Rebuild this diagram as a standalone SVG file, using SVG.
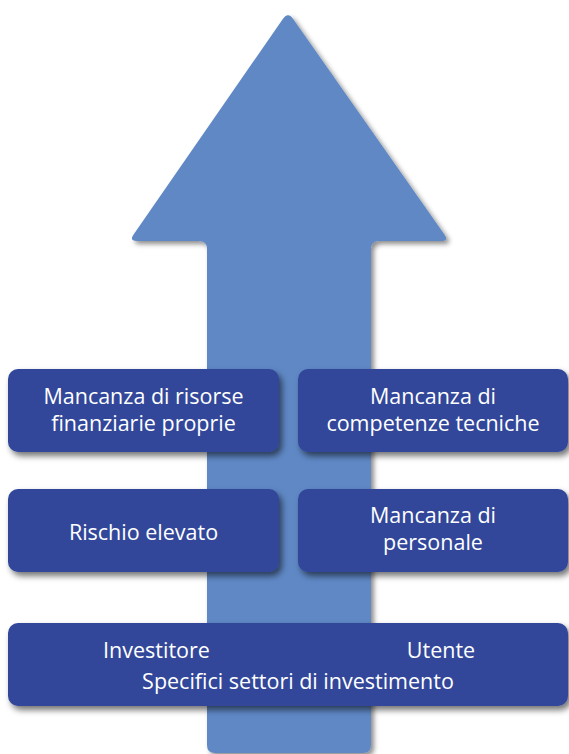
<svg xmlns="http://www.w3.org/2000/svg" width="569" height="754" viewBox="0 0 569 754">
<defs>
<filter id="sh" x="-10%" y="-10%" width="125%" height="130%">
<feDropShadow dx="3" dy="4" stdDeviation="3" flood-color="#000" flood-opacity="0.55"/>
</filter>
<filter id="ash" x="-10%" y="-10%" width="125%" height="125%">
<feDropShadow dx="3" dy="3" stdDeviation="2.5" flood-color="#000" flood-opacity="0.45"/>
</filter>
</defs>
<style>
.box{fill:#31469a;filter:url(#sh);}
.t{font-family:"Open Sans","Liberation Sans",sans-serif;font-size:21.5px;fill:#ffffff;text-anchor:middle;}
</style>
<rect width="569" height="754" fill="#ffffff"/>
<g id="arrow">
<path d="M282.5,19.5 Q288,11 293.5,19.5 L444.4,234.5 Q449,241 441,241 L379,241 Q371,241 371,249 L371,745 Q371,753 363,753 L215,753 Q207,753 207,745 L207,249 Q207,241 199,241 L137,241 Q129,241 133.6,234.4 Z" fill="#5e88c5" filter="url(#ash)"/>
</g>
<g id="connectors"></g>
<g id="n1">
<rect class="box" x="8" y="369" width="271" height="83" rx="10"/>
<text class="t" x="143.5" y="404">Mancanza di risorse</text>
<text class="t" x="143.5" y="431">finanziarie proprie</text>
</g>
<g id="n2">
<rect class="box" x="298" y="369" width="270" height="83" rx="10"/>
<text class="t" x="433" y="404">Mancanza di</text>
<text class="t" x="433" y="431">competenze tecniche</text>
</g>
<g id="n3">
<rect class="box" x="8" y="489" width="271" height="83" rx="10"/>
<text class="t" x="143.5" y="540">Rischio elevato</text>
</g>
<g id="n4">
<rect class="box" x="298" y="489" width="270" height="83" rx="10"/>
<text class="t" x="433" y="523">Mancanza di</text>
<text class="t" x="433" y="550">personale</text>
</g>
<g id="n5">
<rect class="box" x="8" y="623" width="560" height="83" rx="10"/>
<text class="t" x="156.5" y="658">Investitore</text>
<text class="t" x="441" y="658">Utente</text>
<text class="t" x="298" y="689">Specifici settori di investimento</text>
</g>
</svg>
